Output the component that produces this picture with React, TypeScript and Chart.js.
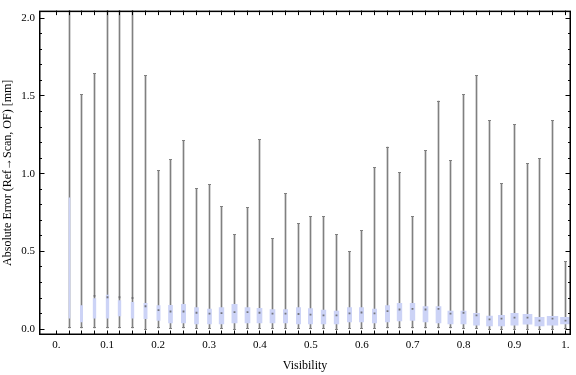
import React, { useEffect, useRef } from 'react';
import { Chart, registerables } from 'chart.js';

Chart.register(...registerables);

// ---- data ----
const visibility = [
  0.025, 0.05, 0.075, 0.1, 0.125, 0.15, 0.175, 0.2, 0.225, 0.25,
  0.275, 0.3, 0.325, 0.35, 0.375, 0.4, 0.425, 0.45, 0.475, 0.5,
  0.525, 0.55, 0.575, 0.6, 0.625, 0.65, 0.675, 0.7, 0.725, 0.75,
  0.775, 0.8, 0.825, 0.85, 0.875, 0.9, 0.925, 0.95, 0.975, 1.0,
];
const whiskerMin = [
  0.008, 0.008, 0.008, 0.008, 0.008, 0.008, 0.0, 0.008, 0.005, 0.008,
  0.005, 0.005, 0.005, 0.0, 0.005, 0.005, 0.005, 0.005, 0.005, 0.005,
  0.005, 0.0, 0.005, 0.005, 0.005, 0.008, 0.008, 0.008, 0.008, 0.008,
  0.008, 0.005, 0.003, 0.0, 0.0, 0.0, 0.0, 0.0, 0.0, 0.003,
];
const whiskerMax = [
  2.6, 1.511, 1.644, 2.4, 2.7, 2.3, 1.631, 1.019, 1.089, 1.215,
  0.906, 0.929, 0.786, 0.609, 0.782, 1.219, 0.584, 0.874, 0.679, 0.723,
  0.723, 0.609, 0.496, 0.635, 1.038, 1.171, 1.007, 0.723, 1.146, 1.467,
  1.083, 1.511, 1.631, 1.341, 0.937, 1.316, 1.064, 1.095, 1.341, 0.433,
];
const quartile1 = [
  0.071, 0.046, 0.071, 0.071, 0.084, 0.071, 0.067, 0.055, 0.04, 0.04,
  0.034, 0.034, 0.034, 0.04, 0.04, 0.04, 0.04, 0.04, 0.034, 0.034,
  0.034, 0.034, 0.046, 0.046, 0.04, 0.046, 0.053, 0.055, 0.046, 0.04,
  0.034, 0.034, 0.025, 0.021, 0.021, 0.025, 0.032, 0.021, 0.025, 0.034,
];
const quartile3 = [
  0.845, 0.151, 0.197, 0.219, 0.183, 0.172, 0.166, 0.151, 0.153, 0.16,
  0.139, 0.128, 0.139, 0.16, 0.139, 0.134, 0.126, 0.126, 0.139, 0.132,
  0.122, 0.116, 0.139, 0.139, 0.128, 0.151, 0.166, 0.166, 0.145, 0.145,
  0.116, 0.116, 0.101, 0.084, 0.088, 0.101, 0.095, 0.076, 0.082, 0.076,
];
const median = [
  null, null, 0.214, 0.205, 0.205, 0.2, 0.147, 0.122, 0.113, 0.113,
  0.105, 0.099, 0.103, 0.109, 0.109, 0.105, 0.099, 0.099, 0.097, 0.093,
  0.088, 0.088, 0.101, 0.107, 0.101, 0.116, 0.126, 0.13, 0.126, 0.13,
  0.099, 0.105, 0.088, 0.063, 0.067, 0.074, 0.074, 0.055, 0.067, 0.055,
];
// relative sample size of each bin (drives box width)
const sampleWeight = [
  10, 23, 27, 27, 27, 27, 33, 33, 40, 43,
  40, 40, 47, 53, 50, 50, 50, 43, 43, 43,
  47, 47, 43, 43, 43, 43, 47, 47, 50, 50,
  53, 53, 60, 60, 63, 73, 90, 93, 107, 100,
];

const xTickValues = [0, 0.1, 0.2, 0.3, 0.4, 0.5, 0.6, 0.7, 0.8, 0.9, 1.0];
const xTickLabels = ['0.', '0.1', '0.2', '0.3', '0.4', '0.5', '0.6', '0.7', '0.8', '0.9', '1.'];
const yTickValues = [0, 0.5, 1.0, 1.5, 2.0];
const yTickLabels = ['0.0', '0.5', '1.0', '1.5', '2.0'];
const yMinorTicks = [0.1, 0.2, 0.3, 0.4, 0.6, 0.7, 0.8, 0.9, 1.1, 1.2, 1.3, 1.4, 1.6, 1.7, 1.8, 1.9];

const xTitle = 'Visibility';
const yTitle = 'Absolute Error (Ref\u2192Scan, OF) [mm]';

const GRAY = 'rgb(128,128,128)';
const BOX = 'rgb(204,211,246)';
const MED = 'rgba(105,105,110,0.9)';
const SERIF = "'Liberation Serif', 'Times New Roman', serif";
const PX_PER_WEIGHT = 0.1;

export default function App() {
  const ref = useRef<HTMLCanvasElement>(null);

  useEffect(() => {
    document.body.style.margin = '0';
    const canvas = ref.current!;

    const snap = (v: number) => Math.round(v - 0.5) + 0.5;

    const snapPlugin = {
      id: 'snapPlugin',
      afterDatasetsUpdate(chart: any) {
        chart.data.datasets.forEach((ds: any, di: number) => {
          const meta = chart.getDatasetMeta(di);
          meta.data.forEach((el: any, i: number) => {
            el.x = snap(el.x);
            if (ds.label === 'boxes') el.width = sampleWeight[i] * PX_PER_WEIGHT;
            if (ds.type === 'scatter' && ds.label !== 'median') el.y = snap(el.y);
          });
        });
      },
    };

    const framePlugin = {
      id: 'framePlugin',
      afterDraw(chart: any) {
        const { ctx, chartArea } = chart;
        const { left, right, top, bottom } = chartArea;
        const xs = chart.scales.x;
        const ys = chart.scales.y;
        ctx.save();
        ctx.strokeStyle = '#000';
        ctx.lineWidth = 1;
        ctx.beginPath();
        // x ticks at 0 and at every bin
        [0, ...visibility].forEach((v) => {
          const px = snap(xs.getPixelForValue(v));
          ctx.moveTo(px, bottom);
          ctx.lineTo(px, bottom - 4.5);
          ctx.moveTo(px, top);
          ctx.lineTo(px, top + 4.5);
        });
        yTickValues.forEach((v) => {
          const py = snap(ys.getPixelForValue(v));
          ctx.moveTo(left, py);
          ctx.lineTo(left + 5.5, py);
          ctx.moveTo(right, py);
          ctx.lineTo(right - 5.5, py);
        });
        yMinorTicks.forEach((v) => {
          const py = snap(ys.getPixelForValue(v));
          ctx.moveTo(left, py);
          ctx.lineTo(left + 3, py);
          ctx.moveTo(right, py);
          ctx.lineTo(right - 3, py);
        });
        ctx.stroke();
        ctx.lineWidth = 1.5;
        ctx.strokeRect(left + 0.75, top + 0.75, right - left - 1.5, bottom - top - 1.5);
        ctx.restore();
      },
    };

    const chart = new Chart(canvas, {
      type: 'bar',
      data: {
        datasets: [
          {
            label: 'whiskers',
            type: 'bar',
            data: visibility.map((x, i) => ({ x, y: [whiskerMin[i], whiskerMax[i]] })),
            backgroundColor: GRAY,
            borderWidth: 0,
            barThickness: 1,
            grouped: false,
            order: 4,
          },
          {
            label: 'boxes',
            type: 'bar',
            data: visibility.map((x, i) => ({ x, y: [quartile1[i], quartile3[i]] })),
            backgroundColor: BOX,
            borderWidth: 0,
            barThickness: 4,
            grouped: false,
            order: 3,
          },
          {
            label: 'capMin',
            type: 'scatter',
            data: visibility.map((x, i) => ({ x, y: whiskerMin[i] })),
            pointStyle: 'line',
            radius: 1.5,
            borderColor: GRAY,
            borderWidth: 1,
            order: 2,
          },
          {
            label: 'capMax',
            type: 'scatter',
            data: visibility.map((x, i) => ({ x, y: whiskerMax[i] })),
            pointStyle: 'line',
            radius: 1.5,
            borderColor: GRAY,
            borderWidth: 1,
            order: 2,
          },
          {
            label: 'median',
            type: 'scatter',
            data: visibility.map((x, i) => ({ x, y: median[i] as any })),
            pointStyle: 'rect',
            radius: 1.3,
            backgroundColor: MED,
            borderWidth: 0,
            order: 1,
          },
        ] as any,
      },
      options: {
        responsive: false,
        devicePixelRatio: 1,
        animation: false,
        events: [],
        layout: { padding: { top: 4, right: 1, left: 0, bottom: 0 } },
        plugins: { legend: { display: false }, tooltip: { enabled: false } },
        scales: {
          x: {
            type: 'linear',
            min: -0.034,
            max: 1.011,
            offset: false,
            grid: { display: false, drawTicks: false },
            border: { display: false },
            afterBuildTicks: (s: any) => {
              s.ticks = xTickValues.map((v) => ({ value: v }));
            },
            afterFit: (s: any) => {
              s.height = 40;
            },
            ticks: {
              autoSkip: false,
              maxRotation: 0,
              padding: 4,
              color: '#000',
              font: { family: SERIF, size: 11 },
              callback: (_v: any, i: number) => xTickLabels[i],
            },
            title: {
              display: true,
              text: xTitle,
              color: '#000',
              font: { family: SERIF, size: 12 },
              padding: { top: 0, bottom: 2 },
            },
          },
          y: {
            type: 'linear',
            min: -0.038,
            max: 2.049,
            grid: { display: false, drawTicks: false },
            border: { display: false },
            afterBuildTicks: (s: any) => {
              s.ticks = yTickValues.map((v) => ({ value: v }));
            },
            afterFit: (s: any) => {
              s.width = 39;
            },
            ticks: {
              autoSkip: false,
              padding: 4,
              color: '#000',
              font: { family: SERIF, size: 11 },
              callback: (_v: any, i: number) => yTickLabels[i],
            },
            title: {
              display: true,
              text: yTitle,
              color: '#000',
              font: { family: SERIF, size: 12 },
              padding: { top: 1, bottom: 0 },
            },
          },
        },
      } as any,
      plugins: [snapPlugin, framePlugin],
    });

    return () => chart.destroy();
  }, []);

  return (
    <div style={{ width: 576, height: 375 }}>
      <canvas ref={ref} width={576} height={375} style={{ display: 'block', width: 576, height: 375 }} />
    </div>
  );
}
